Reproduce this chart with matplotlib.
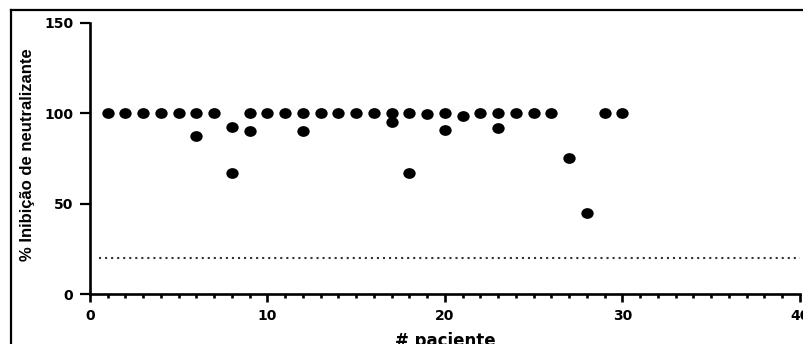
import matplotlib.pyplot as plt
import numpy as np
from matplotlib.path import Path
from matplotlib.markers import MarkerStyle
from matplotlib.transforms import Affine2D
from matplotlib.lines import Line2D

# % inhibition per patient (first measurement)
patients = list(range(1, 31))
inhibition = [100, 100, 100, 100, 100, 100, 100, 92.5, 100, 100,
              100, 100, 100, 100, 100, 100, 100, 100, 99.5, 100,
              98.5, 100, 100, 100, 100, 100, 75, 45, 100, 100]

# second measurement for some patients
patients_rep = [6, 8, 9, 12, 17, 18, 20, 23]
inhibition_rep = [87.5, 67, 90, 90, 95, 67, 90.5, 92]

cutoff = 20

fig = plt.figure(figsize=(8.04, 3.44), dpi=100)
ax = fig.add_axes([90 / 804, 50 / 344, 710 / 804, 271 / 344])

# slightly flattened dot
dot = MarkerStyle(Path.unit_circle().transformed(Affine2D().scale(1, 0.87)))

ax.plot(patients, inhibition, ls='none', marker=dot, ms=8.9, color='black', mew=0)
ax.plot(patients_rep, inhibition_rep, ls='none', marker=dot, ms=8.9, color='black', mew=0)

ax.plot([0.5, 40], [cutoff, cutoff], color='#333333', lw=1.5, ls=(0, (1, 1.9)))

ax.set_xlim(0, 40)
ax.set_ylim(0, 150)
ax.set_xticks(np.arange(0, 41, 10))
ax.set_xticks(np.arange(0, 41, 1), minor=True)
ax.set_yticks([0, 50, 100, 150])

for s in ['top', 'right']:
    ax.spines[s].set_visible(False)
for s in ['left', 'bottom']:
    ax.spines[s].set_linewidth(1.9)

ax.tick_params(axis='y', length=7, width=1.6, pad=5)
ax.tick_params(axis='x', which='major', length=6, width=1.9, pad=5)
ax.tick_params(axis='x', which='minor', length=3, width=1.9)
for lab in ax.get_xticklabels() + ax.get_yticklabels():
    lab.set_fontweight('bold')
    lab.set_fontsize(10)
    lab.set_family('DejaVu Sans')

ax.set_ylabel('% Inibição de neutralizante', fontsize=12, fontweight='bold',
              family=['Liberation Sans', 'DejaVu Sans'])
ax.yaxis.set_label_coords(-0.0775, 0.513)
ax.set_xlabel('# paciente', fontsize=12, fontweight='bold', family='DejaVu Sans')
ax.xaxis.set_label_coords(0.501, -0.14)

# border around the panel
fig.add_artist(Line2D([11 / 804, 1.0], [1 - 10.3 / 344, 1 - 10.3 / 344],
                      transform=fig.transFigure, color='black', lw=1.6))
fig.add_artist(Line2D([11 / 804, 11 / 804], [0, 1 - 10.3 / 344],
                      transform=fig.transFigure, color='black', lw=1.6))

fig.savefig('out.png', dpi=100)
